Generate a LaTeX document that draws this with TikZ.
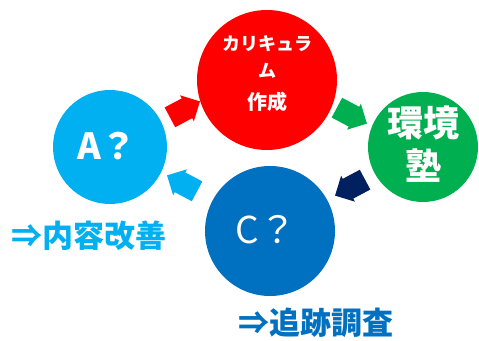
\documentclass[tikz,border=0pt]{standalone}
\usepackage{fontspec}
\newfontfamily\jp{Noto Sans CJK JP}
\usetikzlibrary{shapes.arrows}
\definecolor{cred}{HTML}{FF0000}
\definecolor{clight}{HTML}{00B0F0}
\definecolor{cgreen}{HTML}{00B050}
\definecolor{cblue}{HTML}{0070C0}
\definecolor{cnavy}{HTML}{002060}
\tikzset{
  disc/.style={circle, inner sep=0pt, draw=none},
  blockarrow/.style={single arrow, draw=none, minimum height=34pt, minimum width=29pt,
    single arrow head extend=3.5pt, inner sep=11pt, single arrow head indent=0pt},
  wtext/.style={text=white, font=\jp\bfseries, align=center, inner sep=0pt},
}
\begin{document}
\begin{tikzpicture}[x=1pt,y=1pt]
\useasboundingbox (0,0) rectangle (479,340);
% circles
\node[disc, fill=cred, minimum size=140pt] (red) at (267,260) {};
\node[disc, fill=clight, minimum size=114pt] (acirc) at (110,193) {};
\node[disc, fill=cgreen, minimum size=110pt] (green) at (423,193) {};
\node[disc, fill=cblue, minimum size=130pt] (ccirc) at (270,109) {};
% texts in circles
\node[wtext, font=\jp\bfseries\fontsize{18}{27}\selectfont] (redtxt) at (267,266)
  {カリキュラ\\ム\\[5pt]{\fontsize{20}{27}\selectfont 作成}};
\node[wtext, font=\jp\bfseries\fontsize{36}{40}\selectfont] (atxt) at (107,194) {A？};
\node[wtext, font=\jp\bfseries\fontsize{36}{43}\selectfont] (gtxt) at (423,196) {環境\\塾};
\node[text=white, inner sep=0pt, font=\jp\fontsize{37}{40}\selectfont] (ctxt) at (266,110) {C？};
% arrows
\node[blockarrow, fill=cred, rotate=28] (ar1) at (180,228) {};
\node[blockarrow, fill=cgreen, rotate=-28] (ar2) at (347,227) {};
\node[blockarrow, fill=cnavy, rotate=208] (ar3) at (355,155) {};
\node[blockarrow, fill=clight, rotate=152] (ar4) at (187,154) {};
% outer labels
\node[text=clight, inner sep=0pt, font=\jp\bfseries\fontsize{31}{34}\selectfont] (lbl1) at (89,104) {⇒内容改善};
\node[text=cblue, inner sep=0pt, font=\jp\bfseries\fontsize{31}{34}\selectfont] (lbl2) at (316,17) {⇒追跡調査};
\end{tikzpicture}
\end{document}
